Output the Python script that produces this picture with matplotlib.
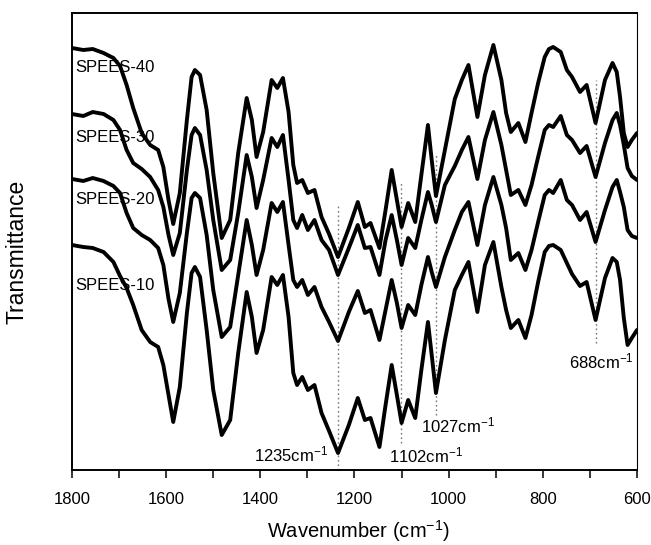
import matplotlib
matplotlib.use("Agg")
import matplotlib.pyplot as plt
from matplotlib.ticker import MultipleLocator

plt.rcParams['font.family'] = ['Liberation Sans', 'DejaVu Sans']
plt.rcParams['mathtext.default'] = 'regular'

# Wavenumber grid (cm-1) shared by all spectra
wavenumber = [1800, 1776, 1756, 1733, 1712, 1698, 1684, 1670, 1652, 1634,
              1617, 1606, 1595, 1585, 1571, 1556, 1546, 1539, 1528, 1514,
              1500, 1482, 1464, 1447, 1429, 1418, 1408, 1394, 1376, 1364,
              1352, 1340, 1330, 1322, 1311, 1299, 1285, 1270, 1254, 1235,
              1212, 1193, 1178, 1166, 1147, 1134, 1121, 1110, 1100, 1086,
              1071, 1058, 1044, 1036, 1027, 1008, 987, 972, 958, 939,
              923, 905, 888, 878, 868, 852, 837, 824, 810, 796,
              787, 778, 762, 749, 738, 721, 707, 688, 668, 652,
              643, 636, 628, 620, 611, 600]

# Transmittance (arbitrary units, offset spectra)
spees_40 = [422, 420, 421, 417, 412, 404, 385, 362, 337, 325,
            320, 303, 270, 246, 277, 350, 393, 400, 395, 360,
            297, 232, 250, 317, 372, 350, 313, 338, 390, 382,
            392, 358, 305, 287, 290, 277, 280, 253, 236, 213,
            242, 268, 243, 247, 222, 260, 300, 270, 243, 267,
            248, 295, 345, 310, 274, 320, 371, 390, 405, 353,
            395, 425, 390, 357, 338, 347, 328, 357, 387, 413,
            421, 423, 418, 400, 393, 378, 385, 347, 390, 407,
            398, 373, 337, 323, 330, 337]

spees_30 = [356, 354, 358, 356, 350, 340, 320, 307, 301, 293,
            280, 263, 235, 215, 237, 300, 335, 342, 335, 300,
            250, 200, 210, 257, 315, 293, 262, 290, 332, 323,
            335, 290, 250, 242, 255, 240, 250, 230, 220, 195,
            222, 245, 222, 223, 195, 230, 255, 230, 205, 232,
            222, 250, 278, 265, 248, 285, 304, 320, 333, 291,
            330, 358, 325, 300, 275, 280, 265, 285, 313, 340,
            345, 343, 354, 335, 330, 317, 324, 293, 327, 350,
            357, 345, 325, 302, 294, 290]

spees_20 = [291, 289, 292, 289, 284, 277, 257, 242, 235, 230,
            222, 205, 171, 148, 177, 237, 272, 277, 272, 235,
            180, 133, 143, 195, 250, 225, 195, 220, 267, 258,
            268, 225, 190, 183, 190, 175, 183, 163, 148, 129,
            158, 179, 157, 160, 130, 160, 190, 167, 142, 165,
            155, 185, 213, 198, 183, 213, 240, 258, 268, 225,
            265, 293, 265, 242, 210, 217, 200, 220, 248, 275,
            280, 277, 290, 270, 265, 250, 258, 228, 260, 283,
            290, 278, 263, 240, 234, 232]

spees_10 = [225, 223, 222, 218, 208, 194, 182, 165, 140, 128,
            123, 105, 75, 48, 83, 157, 197, 203, 193, 140,
            80, 35, 50, 117, 178, 153, 117, 140, 193, 185,
            195, 153, 97, 85, 93, 80, 85, 57, 39, 17,
            45, 72, 50, 52, 23, 65, 105, 75, 47, 70,
            52, 100, 148, 115, 77, 130, 180, 195, 208, 158,
            205, 228, 183, 160, 142, 150, 132, 155, 188, 218,
            224, 225, 220, 207, 196, 184, 188, 150, 192, 212,
            208, 190, 152, 125, 132, 140]

series_names = ['SPEES-40', 'SPEES-30', 'SPEES-20', 'SPEES-10']
series_values = [spees_40, spees_30, spees_20, spees_10]

# Marked bands: wavenumber, dotted line extent (y0, y1)
band_positions = [1235, 1102, 1027, 688]
band_line_low = [0, 27, 55, 127]
band_line_high = [265, 287, 317, 390]
band_labels = ['1235cm$^{-1}$', '1102cm$^{-1}$', '1027cm$^{-1}$', '688cm$^{-1}$']

x_ticks = [1800, 1600, 1400, 1200, 1000, 800, 600]

fig = plt.figure(figsize=(6.51, 5.45), dpi=100)
ax = fig.add_axes([72 / 651, 75 / 545, 565 / 651, 457 / 545])

for vals in series_values:
    ax.plot(wavenumber, vals, color='black', lw=2.8,
            solid_joinstyle='round', solid_capstyle='round', zorder=3)

for w, y0, y1 in zip(band_positions, band_line_low, band_line_high):
    ax.plot([w, w], [y0, y1], color='#777777', lw=1.0,
            linestyle=(0, (1.2, 2.0)), zorder=2)

# series labels
label_y = [402, 333, 270, 185]
for name, yy in zip(series_names, label_y):
    ax.text(1794, yy, name, fontsize=12, ha='left', va='center', zorder=4)

# band labels
ax.text(1256, 9, band_labels[0], fontsize=12, ha='right', va='baseline')
ax.text(1126, 8, band_labels[1], fontsize=12, ha='left', va='baseline')
ax.text(1059, 38, band_labels[2], fontsize=12, ha='left', va='baseline')
ax.text(744, 102, band_labels[3], fontsize=12, ha='left', va='baseline')

ax.set_xlim(1800, 600)
ax.set_ylim(0, 457)
ax.set_xticks(x_ticks)
ax.set_xticklabels([str(t) for t in x_ticks])
ax.xaxis.set_minor_locator(MultipleLocator(100))
ax.set_yticks([])
ax.tick_params(axis='x', which='both', direction='out', length=5.5,
               width=1.1, labelsize=12, pad=10)
ax.tick_params(axis='x', which='both', top=False)

for side in ['left', 'bottom', 'top']:
    ax.spines[side].set_linewidth(1.4)
ax.spines['right'].set_linewidth(0.8)

ax.set_xlabel('Wavenumber (cm$^{-1}$)', fontsize=14.5)
ax.xaxis.label.set_va('center')
ax.xaxis.set_label_coords(0.507, -0.133)
ax.set_ylabel('Transmittance', fontsize=16.5)
ax.yaxis.label.set_va('center')
ax.yaxis.set_label_coords(-0.0965, 0.477)

fig.savefig('out.png', dpi=100)
